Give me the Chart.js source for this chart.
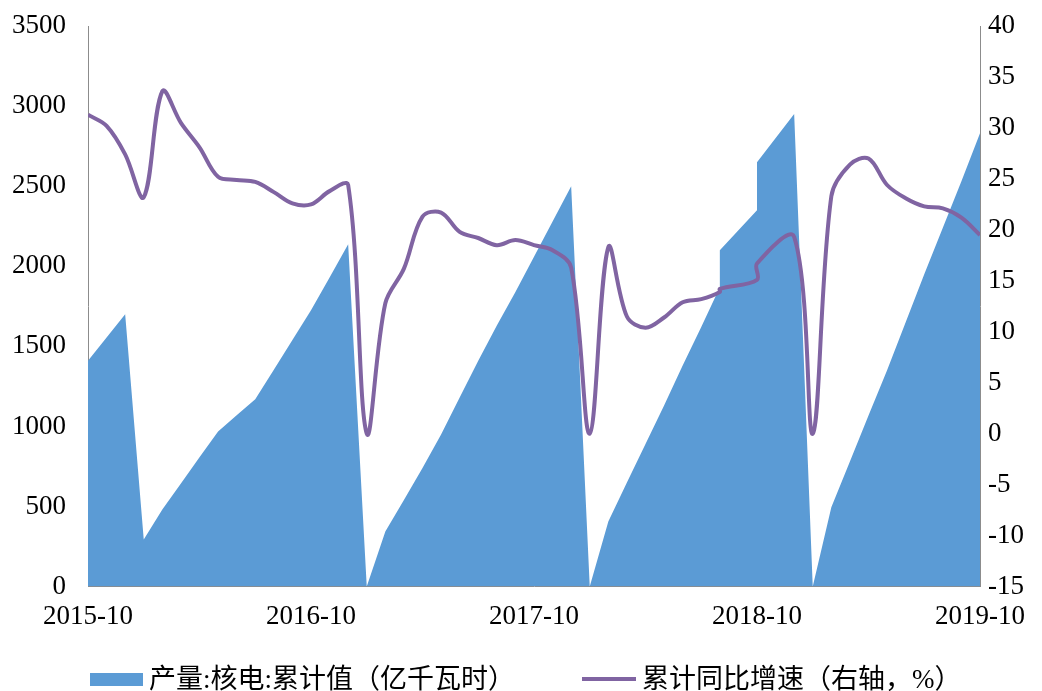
<!DOCTYPE html>
<html>
<head>
<meta charset="utf-8">
<script src="https://cdn.jsdelivr.net/npm/chart.js@4/dist/chart.umd.min.js"></script>
<style>
  html, body { margin: 0; padding: 0; background: #fff; }
  #wrap { position: relative; width: 1042px; height: 691px; }
  #legend {
    position: absolute; left: 90px; top: 664px; height: 30px; line-height: 30px;
    display: flex; align-items: center; gap: 67px;
    font: 27px 'Liberation Serif', 'Noto Sans CJK SC', serif; color: #000;
  }
  #legend .item { display: flex; align-items: center; white-space: nowrap; height: 30px; line-height: 30px; }
  #legend .swatch { margin-right: 6px; }
</style>
</head>
<body>
<div id="wrap">
  <canvas id="c" width="1042" height="691"></canvas>
  <div id="legend"></div>
</div>
<script>
// month each value is reported under (the source puts 2018-09 and 2018-11 on the previous month)
const dates = [
  '2015-10', '2015-11', '2015-12',
  '2016-01', '2016-02', '2016-03', '2016-04', '2016-05', '2016-06',
  '2016-07', '2016-08', '2016-09', '2016-10', '2016-11', '2016-12',
  '2017-01', '2017-02', '2017-03', '2017-04', '2017-05', '2017-06',
  '2017-07', '2017-08', '2017-09', '2017-10', '2017-11', '2017-12',
  '2018-01', '2018-02', '2018-03', '2018-04', '2018-05', '2018-06',
  '2018-07', '2018-08', '2018-08', '2018-10', '2018-10', '2018-12',
  '2019-01', '2019-02', '2019-03', '2019-04', '2019-05', '2019-06',
  '2019-07', '2019-08', '2019-09', '2019-10',
];

// 产量:核电:累计值 (亿千瓦时)
const output = [
  1410, 1555, 1700,
  294, 481, 644, 807, 969, 1070,
  1169, 1354, 1540, 1725, 1930, 2137,
  0, 344, 540, 740, 950, 1180,
  1410, 1630, 1840, 2060, 2280, 2500,
  0, 406, 650, 890, 1130, 1380,
  1620, 1869, 2100, 2350, 2650, 2950,
  0, 496, 781, 1069, 1350, 1650,
  1950, 2240, 2530, 2830,
];

// 累计同比增速 (%)
const growth = [
  31.3, 30.2, 27.4,
  23.2, 33.6, 30.5, 28.1, 25.2, 24.9,
  24.7, 23.7, 22.6, 22.5, 23.8, 24.4,
  0, 12.8, 16.2, 21.3, 21.7, 19.8,
  19.2, 18.5, 19.0, 18.5, 18.0, 16.3,
  0, 18.3, 11.5, 10.4, 11.4, 12.9,
  13.2, 13.9, 14.2, 15.1, 16.7, 19.3,
  0, 23.3, 26.4, 27.0, 24.4, 23.1,
  22.3, 22.1, 21.2, 19.5,
];

const xTicks = ['2015-10', '2016-10', '2017-10', '2018-10', '2019-10'];
const seriesNames = ['产量:核电:累计值（亿千瓦时）', '累计同比增速（右轴，%）'];

const startYear = 2015, startMonth = 10;
const monthIndex = (d) => {
  const [y, m] = d.split('-').map(Number);
  return (y - startYear) * 12 + (m - startMonth);
};
const toPoints = (vals) => vals.map((v, i) => ({ x: monthIndex(dates[i]), y: v }));

const font = { family: "'Liberation Serif', 'Times New Roman', serif", size: 27 };
const axisLine = { display: true, color: '#8c8c8c', width: 1 };
const noGrid = { display: false, drawTicks: false };

// fixed side widths; the label gap should not push the plot top down
const fitSide = (w) => (s) => {
  s.width = w;
  s.paddingTop = 0;
  s.paddingBottom = 0;
};

const chart = new Chart(document.getElementById('c'), {
  type: 'line',
  data: {
    datasets: [
      {
        label: seriesNames[0],
        data: toPoints(output),
        yAxisID: 'y',
        fill: 'origin',
        backgroundColor: '#5b9bd5',
        borderWidth: 0,
        pointRadius: 0,
        tension: 0,
        order: 2,
      },
      {
        label: seriesNames[1],
        data: toPoints(growth),
        yAxisID: 'y1',
        fill: false,
        borderColor: '#8064a2',
        borderWidth: 4,
        pointRadius: 0,
        tension: 0.35,
        order: 1,
      },
    ],
  },
  options: {
    responsive: false,
    animation: false,
    layout: { padding: { top: 26, right: 0, bottom: 44, left: 0 } },
    plugins: { legend: { display: false }, tooltip: { enabled: false } },
    scales: {
      x: {
        type: 'linear',
        min: 0,
        max: 48,
        grid: noGrid,
        border: axisLine,
        ticks: {
          stepSize: 12,
          autoSkip: false,
          maxRotation: 0,
          padding: 14,
          color: '#000',
          font: font,
          callback: (v) => xTicks[v / 12],
        },
      },
      y: {
        position: 'left',
        min: 0,
        max: 3500,
        grid: noGrid,
        border: axisLine,
        ticks: { stepSize: 500, padding: 22, color: '#000', font: font, callback: (v) => String(v) },
        afterFit: fitSide(88),
      },
      y1: {
        position: 'right',
        min: -15,
        max: 40,
        grid: noGrid,
        border: axisLine,
        ticks: { stepSize: 5, padding: 8, color: '#000', font: font, callback: (v) => String(v) },
        afterFit: fitSide(62),
      },
    },
  },
});

// legend drawn as html below the plot
const legend = document.getElementById('legend');
chart.data.datasets.forEach((ds) => {
  const item = document.createElement('div');
  item.className = 'item';
  const sw = document.createElement('span');
  sw.className = 'swatch';
  if (ds.fill) {
    sw.style.cssText = `display:inline-block;width:53px;height:13px;background:${ds.backgroundColor}`;
  } else {
    sw.style.cssText = `display:inline-block;width:54px;height:4px;background:${ds.borderColor}`;
  }
  item.appendChild(sw);
  item.appendChild(document.createTextNode(ds.label));
  legend.appendChild(item);
});
</script>
</body>
</html>
